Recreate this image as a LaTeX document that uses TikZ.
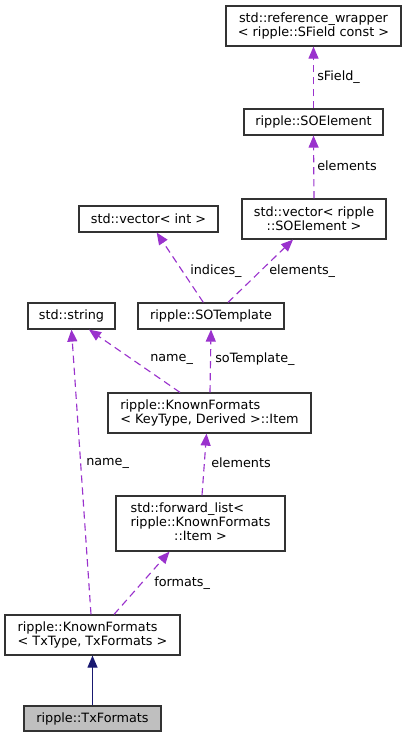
\documentclass[tikz,border=0pt]{standalone}
\usepackage{fontspec}
\setmainfont{DejaVu Sans}
\usepackage{xcolor}
\usetikzlibrary{positioning,calc,arrows.meta}
\definecolor{edgepurple}{HTML}{9A32CD}
\definecolor{inheritblue}{HTML}{191970}

\begin{document}
\begin{tikzpicture}[x=0.75pt, y=-0.75pt,
    box/.style={draw=black!80, line width=0.9pt, inner sep=0pt, font=\fontsize{9.6pt}{10.5pt}\selectfont},
    uses/.style={-{Triangle[length=9pt,width=7.5pt]}, edgepurple, dash pattern=on 5.5pt off 3.5pt, line width=0.85pt},
    inherits/.style={-{Triangle[length=9pt,width=7.5pt]}, inheritblue, line width=0.85pt},
    lbl/.style={anchor=west, inner sep=0pt, font=\fontsize{9.6pt}{10.5pt}\selectfont}]
    \useasboundingbox (0,0) rectangle (407,737);

    % Element chain
    \node[box, minimum width=131.25pt, minimum height=30pt, align=center] (refwrap) at (313.5,26) {std::reference\_wrapper\\< ripple::SField const >};
    \node[box, minimum width=104.25pt, minimum height=19.5pt] (soelem) at (313.5,122) {ripple::SOElement};
    \node[box, minimum width=108pt, minimum height=30pt, align=center] (vecso) at (314,219) {std::vector< ripple\\::SOElement >};
    \node[box, minimum width=104.25pt, minimum height=19.5pt] (vecint) at (148.5,219) {std::vector< int >};

    % Template and strings
    \node[box, minimum width=65.25pt, minimum height=19.5pt] (string) at (71.5,316) {std::string};
    \node[box, minimum width=109.5pt, minimum height=19.5pt] (sotempl) at (211,316) {ripple::SOTemplate};
    \node[box, minimum width=152.25pt, minimum height=30pt, align=left] (item) at (209.5,413) {ripple::KnownFormats\\< KeyType, Derived >::Item};
    \node[box, minimum width=126.75pt, minimum height=41.25pt] (fwdlist) at (200.5,523.5) {\begin{tabular}{@{}c@{}}\multicolumn{1}{@{}l@{}}{std::forward\_list<}\\ ripple::KnownFormats\\ ::Item >\end{tabular}};

    % Formats classes
    \node[box, minimum width=131.25pt, minimum height=30pt, align=left] (known) at (92.5,635) {ripple::KnownFormats\\< TxType, TxFormats >};
    \node[box, fill=black!25, minimum width=102.75pt, minimum height=18.75pt] (txf) at (92.5,718.5) {ripple::TxFormats};

    % Member edges
    \draw[uses] (soelem.north) -- (refwrap.south);
    \draw[uses] (vecso.north) -- (soelem.south);
    \draw[uses] ($(sotempl.north)+(-7.7,0)$) -- ($(vecint.south)+(8.2,0)$);
    \draw[uses] ($(sotempl.north)+(17,0)$) -- ($(vecso.south)+(-21,0)$);
    \draw[uses] ($(item.north)+(-29.5,0)$) -- ($(string.south)+(17.5,0)$);
    \draw[uses] ($(item.north)+(0.5,0)$) -- (sotempl.south);
    \draw[uses] ($(known.north)+(-1.5,0)$) -- (string.south);
    \draw[uses] ($(fwdlist.north)+(1.5,0)$) -- ($(item.south)+(-3,0)$);
    \draw[uses] ($(known.north)+(21.5,0)$) -- ($(fwdlist.south)+(-31,0)$);
    \draw[inherits] (txf.north) -- (known.south);

    % Edge labels
    \node[lbl] (lsfield) at (317,77) {sField\_};
    \node[lbl] (lelemtop) at (317,166) {elements};
    \node[lbl] (lindices) at (190,271) {indices\_};
    \node[lbl] (lelemso) at (269,271) {elements\_};
    \node[lbl] (lnamemid) at (150,359) {name\_};
    \node[lbl] (lsotempl) at (215,359) {soTemplate\_};
    \node[lbl] (lnameleft) at (86,463) {name\_};
    \node[lbl] (lelemlow) at (211,463) {elements};
    \node[lbl] (lformats) at (154,583) {formats\_};
\end{tikzpicture}
\end{document}
